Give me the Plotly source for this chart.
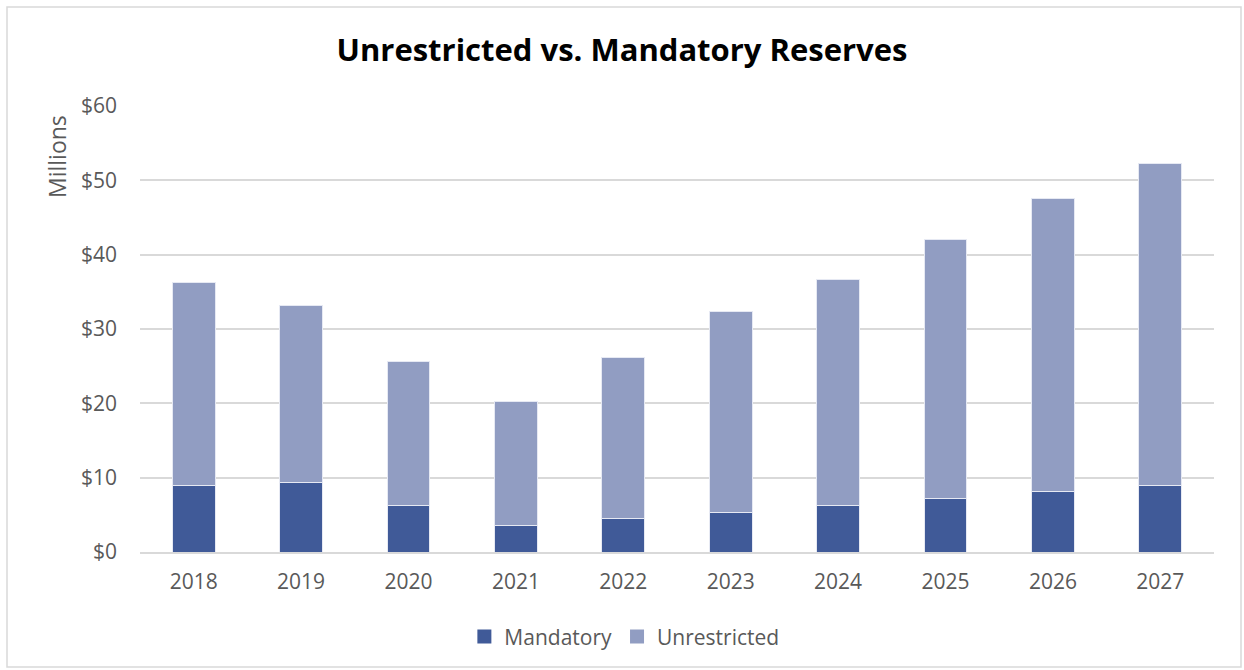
import plotly.graph_objects as go

# Reserve balances, $ millions
years = ["2018", "2019", "2020", "2021", "2022", "2023", "2024", "2025", "2026", "2027"]
mandatory = [8.9, 9.4, 6.3, 3.6, 4.5, 5.3, 6.3, 7.2, 8.1, 9.0]
unrestricted = [27.3, 23.8, 19.3, 16.6, 21.7, 27.1, 30.3, 34.9, 39.4, 43.3]
y_ticks = [0, 10, 20, 30, 40, 50, 60]
y_tick_labels = ["$0", "$10", "$20", "$30", "$40", "$50", "$60"]

FONT = "Open Sans"
TEXT_GREY = "#595959"
GRID = "#D9D9D9"
COLORS = {"Mandatory": "#405A98", "Unrestricted": "#919DC2"}

fig = go.Figure()
for name, values in (("Mandatory", mandatory), ("Unrestricted", unrestricted)):
    fig.add_trace(go.Bar(
        x=years, y=values, name=name, showlegend=False,
        marker=dict(color=COLORS[name], line=dict(color="#E6E9F3", width=1)),
    ))
    # legend key: larger square swatch than the default bar symbol
    fig.add_trace(go.Scatter(
        x=[None], y=[None], mode="markers", name=name,
        marker=dict(symbol="square", size=14, color=COLORS[name]),
    ))

fig.update_layout(
    width=1244, height=670,
    barmode="stack", bargap=0.6,
    paper_bgcolor="white", plot_bgcolor="white",
    margin=dict(l=140, r=30, t=106, b=118),
    font=dict(family=FONT, color=TEXT_GREY, size=21),
    title=dict(
        text="<b>Unrestricted vs. Mandatory Reserves</b>",
        x=0.5, xanchor="center", y=1 - 50 / 670, yanchor="middle",
        font=dict(family=FONT, size=31, color="#000000"),
    ),
    xaxis=dict(
        showgrid=False, showline=True, linecolor=GRID, linewidth=2,
        ticks="", ticklabelstandoff=10,
        tickfont=dict(size=21, color=TEXT_GREY),
    ),
    yaxis=dict(
        range=[0, 60], tickvals=y_ticks, ticktext=y_tick_labels,
        showgrid=True, gridcolor=GRID, gridwidth=1.5,
        zeroline=False, showline=False, ticks="", ticklabelstandoff=22,
        tickfont=dict(size=21, color=TEXT_GREY),
    ),
    legend=dict(
        orientation="h", x=0.451, xanchor="center", y=-0.19, yanchor="middle",
        font=dict(size=21, color=TEXT_GREY), traceorder="normal",
        itemwidth=30,
    ),
    annotations=[dict(
        text="Millions", textangle=-90,
        xref="paper", yref="paper",
        x=(57 - 140) / 1074, y=(552 - 157) / 446,
        xanchor="center", yanchor="middle", showarrow=False,
        font=dict(size=23, color=TEXT_GREY),
    )],
    shapes=[dict(
        type="rect", xref="paper", yref="paper",
        x0=(7 - 140) / 1074, x1=(1241 - 140) / 1074,
        y0=(552 - 667) / 446, y1=(552 - 7) / 446,
        line=dict(color="#D9D9D9", width=1.5), fillcolor="rgba(0,0,0,0)",
        layer="below",
    )],
)

fig.write_html("out.html")
